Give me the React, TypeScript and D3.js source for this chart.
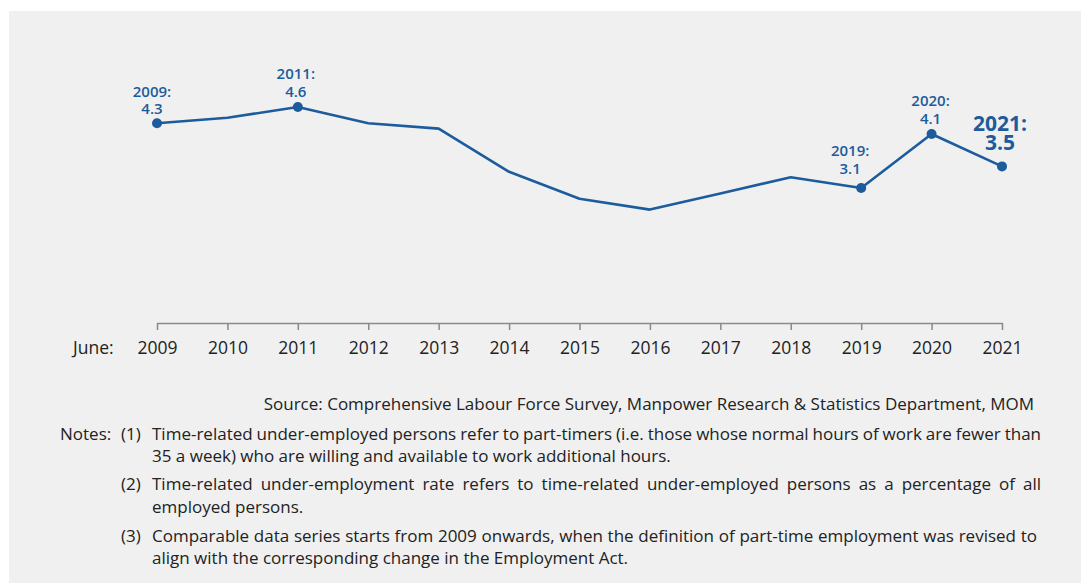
import React, { useEffect, useRef } from "react";
import * as d3 from "d3";

const years = [2009, 2010, 2011, 2012, 2013, 2014, 2015, 2016, 2017, 2018, 2019, 2020, 2021];
const rates = [4.3, 4.4, 4.6, 4.3, 4.2, 3.4, 2.9, 2.7, 3.0, 3.3, 3.1, 4.1, 3.5];
const labelledYears = [2009, 2011, 2019, 2020, 2021];
const labelDx = [-5, -2, -11, -1, -2];
const labelDy = [3, 1.5, -2.5, 1.5, 0];
const axisPrefix = "June:";
const sourceText =
  "Source: Comprehensive Labour Force Survey, Manpower Research & Statistics Department, MOM";
const notesLabel = "Notes:";
const notes = [
  {
    num: "(1)",
    lines: [
      "Time-related under-employed persons refer to part-timers (i.e. those whose normal hours of work are fewer than",
      "35 a week) who are willing and available to work additional hours.",
    ],
  },
  {
    num: "(2)",
    lines: [
      "Time-related under-employment rate refers to time-related under-employed persons as a percentage of all",
      "employed persons.",
    ],
  },
  {
    num: "(3)",
    lines: [
      "Comparable data series starts from 2009 onwards, when the definition of part-time employment was revised to",
      "align with the corresponding change in the Employment Act.",
    ],
  },
];

const W = 1081;
const H = 583;
const FONT = "'Open Sans', 'Noto Sans', sans-serif";
const BLUE = "#1c5c9c";
const TEXT = "#222222";

export default function App() {
  const ref = useRef<SVGSVGElement>(null);

  useEffect(() => {
    const svg = d3.select(ref.current);
    svg.selectAll("*").remove();

    svg.append("rect").attr("x", 9).attr("y", 11).attr("width", W - 9).attr("height", H - 11).attr("fill", "#f0f0f0");

    const x = d3.scaleLinear().domain([2009, 2021]).range([157, 1002]);
    const y = d3.scaleLinear().domain([3.1, 4.6]).range([188, 107]);

    // axis
    const axis = d3
      .axisBottom(x)
      .tickValues(years)
      .tickFormat((d) => String(d))
      .tickSize(7)
      .tickSizeOuter(0)
      .tickPadding(9);
    const gAxis = svg.append("g").attr("transform", "translate(0,323)").call(axis);
    gAxis.select(".domain").attr("stroke", "#8a8a8a").attr("stroke-width", 1.5);
    gAxis.selectAll(".tick line").attr("stroke", "#8a8a8a").attr("stroke-width", 1.5);
    gAxis
      .selectAll(".tick text")
      .attr("fill", TEXT)
      .attr("font-family", FONT)
      .attr("font-size", 17.5)
      .attr("dy", null)
      .attr("y", 31);
    svg
      .append("text")
      .attr("x", 73)
      .attr("y", 354)
      .attr("font-family", FONT)
      .attr("font-size", 17.5)
      .attr("fill", TEXT)
      .text(axisPrefix);

    // line
    const line = d3
      .line<number>()
      .x((_, i) => x(years[i]))
      .y((d) => y(d));
    svg
      .append("path")
      .datum(rates)
      .attr("d", line)
      .attr("fill", "none")
      .attr("stroke", BLUE)
      .attr("stroke-width", 2.6)
      .attr("stroke-linejoin", "round");

    labelledYears.forEach((yr, k) => {
      const i = years.indexOf(yr);
      const px = x(yr);
      const py = y(rates[i]);
      svg.append("circle").attr("cx", px).attr("cy", py).attr("r", 5).attr("fill", BLUE);
      const big = yr === 2021;
      const fs = big ? 21 : 15;
      const vb = (big ? py - 16 : py - 12) + labelDy[k];
      const lh = big ? 19 : 17.5;
      const t = svg
        .append("text")
        .attr("font-family", FONT)
        .attr("font-weight", big ? 700 : 600)
        .attr("font-size", fs)
        .attr("fill", BLUE)
        .attr("text-anchor", "middle")
        .attr("x", px + labelDx[k])
        .attr("y", vb - lh);
      t.append("tspan").attr("x", px + labelDx[k]).text(`${yr}:`);
      t.append("tspan").attr("x", px + labelDx[k]).attr("dy", lh).text(rates[i].toFixed(1));
    });

    // notes
    const NF = 17;
    const txt = svg.append("g").attr("font-family", FONT).attr("font-size", NF).attr("fill", TEXT);

    const justify = (s: string, x0: number, x1: number, yy: number) => {
      const words = s.split(" ");
      const nodes = words.map((w) => txt.append("text").attr("y", yy).text(w));
      const widths = nodes.map((n) => (n.node() as SVGTextElement).getComputedTextLength());
      const total = d3.sum(widths);
      const gap = (x1 - x0 - total) / (words.length - 1);
      let cx = x0;
      nodes.forEach((n, i) => {
        n.attr("x", cx);
        cx += widths[i] + gap;
      });
    };

    txt.append("text").attr("x", 1034).attr("y", 410).attr("text-anchor", "end").text(sourceText);
    txt.append("text").attr("x", 60).attr("y", 440).text(notesLabel);

    const ys = [
      [440, 462],
      [490, 513],
      [542, 564],
    ];
    const ends = [1041, 1041, 1037];
    notes.forEach((n, k) => {
      txt.append("text").attr("x", 121).attr("y", ys[k][0]).text(n.num);
      justify(n.lines[0], 152, ends[k], ys[k][0]);
      txt.append("text").attr("x", 152).attr("y", ys[k][1]).text(n.lines[1]);
    });
  }, []);

  return (
    <svg
      ref={ref}
      width={W}
      height={H}
      style={{ position: "absolute", left: 0, top: 0, display: "block", background: "#ffffff" }}
    />
  );
}
